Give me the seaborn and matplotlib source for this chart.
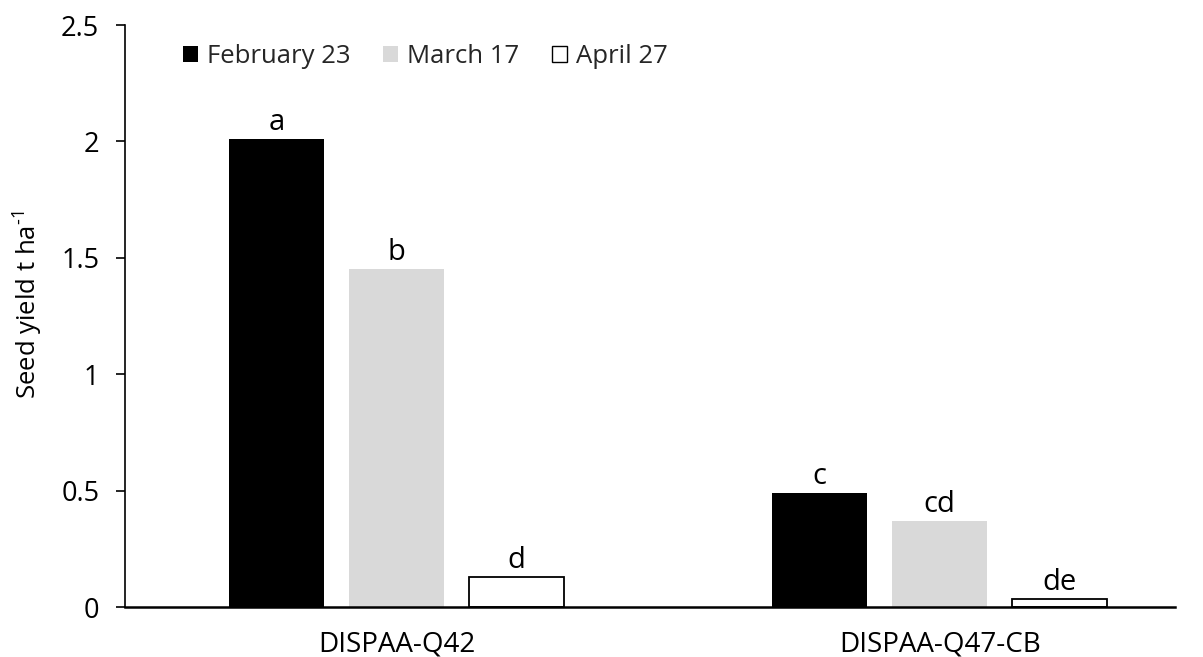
import matplotlib
matplotlib.use("Agg")
import matplotlib.pyplot as plt
import seaborn as sns
import pandas as pd
from matplotlib.patches import Patch

genotypes = ["DISPAA-Q42", "DISPAA-Q47-CB"]
sowing_dates = ["February 23", "March 17", "April 27"]
yield_feb = [2.01, 0.49]
yield_mar = [1.45, 0.37]
yield_apr = [0.13, 0.035]
letters_feb = ["a", "c"]
letters_mar = ["b", "cd"]
letters_apr = ["d", "de"]
ytick_labels = ["0", "0.5", "1", "1.5", "2", "2.5"]

rows = []
for date, vals, labs in zip(sowing_dates,
                            [yield_feb, yield_mar, yield_apr],
                            [letters_feb, letters_mar, letters_apr]):
    for g, v, l in zip(genotypes, vals, labs):
        rows.append({"Genotype": g, "Sowing": date, "Yield": v, "Letter": l})
df = pd.DataFrame(rows)

sns.set_theme(style="white")
plt.rcParams["font.family"] = ["Open Sans", "DejaVu Sans"]
plt.rcParams["mathtext.fontset"] = "custom"
plt.rcParams["mathtext.rm"] = "Open Sans"

W, H = 1203, 657
fig = plt.figure(figsize=(W / 100, H / 100), dpi=100)
ax = fig.add_axes([125 / W, 1 - 607 / H, 1050 / W, 582 / H])

palette = {"February 23": "#000000", "March 17": "#d9d9d9", "April 27": "#ffffff"}
sns.barplot(data=df, x="Genotype", y="Yield", hue="Sowing", order=genotypes,
            hue_order=sowing_dates, palette=palette, width=0.663, gap=0.21,
            saturation=1, errorbar=None, legend=False, ax=ax)

# Outline only the white bars
for cont, date in zip(ax.containers, sowing_dates):
    for bar in cont:
        if date == "April 27":
            bar.set_edgecolor("black")
            bar.set_linewidth(1.3)
        else:
            bar.set_edgecolor("none")

# Significance letters above bars
for cont, date in zip(ax.containers, sowing_dates):
    sub = df[df["Sowing"] == date].set_index("Genotype").loc[genotypes]
    ax.bar_label(cont, labels=list(sub["Letter"]), padding=1.5, fontsize=21,
                 color="black")

ax.set_xlim(-0.5, 1.433)
ax.set_ylim(0, 2.5)
ax.set_yticks([0, 0.5, 1, 1.5, 2, 2.5])
ax.set_yticklabels(ytick_labels)
ax.set_xlabel("")
ax.set_ylabel(r"Seed yield t ha$^{\text{-}1}$", fontsize=18.5, color="black")
ax.yaxis.set_label_coords(-0.077, 0.52)

for side in ["top", "right"]:
    ax.spines[side].set_visible(False)
for side in ["left", "bottom"]:
    ax.spines[side].set_color("black")
ax.spines["left"].set_linewidth(1.2)
ax.spines["bottom"].set_linewidth(1.8)

ax.tick_params(axis="y", direction="out", length=6.5, width=1.2, color="black",
               labelsize=19.5, pad=12, left=True)
ax.tick_params(axis="x", length=0, labelsize=20, pad=17)
for t in ax.get_xticklabels() + ax.get_yticklabels():
    t.set_color("black")

handles = [Patch(facecolor=palette[d], edgecolor="black" if d == "April 27" else "none",
                 linewidth=1.0, label=d) for d in sowing_dates]
fig.legend(handles=handles, loc="upper left", bbox_to_anchor=(183 / W, 1 - 44 / H),
           ncol=3, frameon=False, fontsize=18.5, handlelength=0.6, handleheight=0.6,
           handletextpad=0.35, columnspacing=1.25, borderpad=0, borderaxespad=0)

fig.savefig("out.png", dpi=100)
